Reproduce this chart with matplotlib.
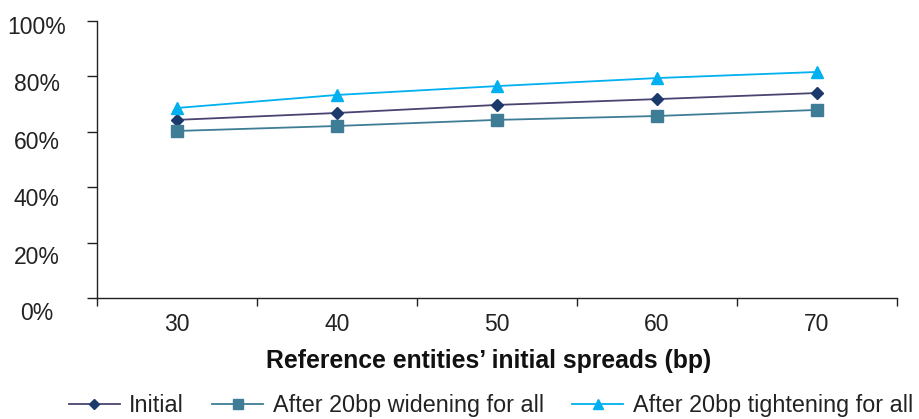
import matplotlib
matplotlib.use("Agg")
import matplotlib.pyplot as plt
import matplotlib.transforms as mtransforms
import numpy as np
from matplotlib.ticker import FixedLocator, NullFormatter

categories = ["30", "40", "50", "60", "70"]
initial = [64.3, 66.8, 69.7, 71.8, 74.0]
widening = [60.3, 62.1, 64.3, 65.7, 67.9]
tightening = [68.6, 73.3, 76.5, 79.4, 81.6]
y_ticks = [0, 20, 40, 60, 80, 100]
y_labels = ["0%", "20%", "40%", "60%", "80%", "100%"]
series_names = ["Initial", "After 20bp widening for all", "After 20bp tightening for all"]

plt.rcParams['font.family'] = ['Liberation Sans', 'DejaVu Sans']

fig = plt.figure(figsize=(9.19, 4.19), dpi=100)
ax = fig.add_axes([97/919, 1-298/419, 800/919, 277/419])

x = np.arange(len(categories))
ax.plot(x, initial, color='#4a4470', lw=1.3, marker='D', ms=6.5,
        mfc='#1b3a6b', mec='#1b3a6b', label=series_names[0])
ax.plot(x, widening, color='#3f7d96', lw=1.3, marker='s', ms=8,
        mfc='#3f7d96', mec='#3f7d96', label=series_names[1])
ax.plot(x, tightening, color='#00b0f0', lw=1.3, marker='^', ms=9,
        mfc='#00b0f0', mec='#00b0f0', label=series_names[2])

ax.set_xlim(-0.5, len(categories) - 0.5)
ax.set_ylim(0, 100)
ax.set_xticks(x)
ax.set_xticklabels(categories, fontsize=16.5, color='#222222')
ax.xaxis.set_minor_locator(FixedLocator(np.arange(-0.5, len(categories), 1.0)))
ax.xaxis.set_minor_formatter(NullFormatter())
ax.tick_params(axis='x', which='major', length=0, pad=11)
ax.tick_params(axis='x', which='minor', length=6, width=1, color='#222222', direction='out')
ax.set_yticks(y_ticks)
ax.set_yticklabels(y_labels, fontsize=16.5, color='#222222')
ax.tick_params(axis='y', length=7, width=1, color='#222222', direction='out', pad=36.5)

# y labels in the reference are centred and drift slightly downward
shifts_px = [13, 12, 10, 8, 6, 4]
for lab, s in zip(ax.get_yticklabels(), shifts_px):
    lab.set_horizontalalignment('center')
    lab.set_transform(lab.get_transform() +
                      mtransforms.ScaledTranslation(0, -s/100, fig.dpi_scale_trans))

for s in ['top', 'right']:
    ax.spines[s].set_visible(False)
for s in ['left', 'bottom']:
    ax.spines[s].set_color('#222222')
    ax.spines[s].set_linewidth(1.0)

ax.set_xlabel("Reference entities\u2019 initial spreads (bp)", fontsize=17.8,
              fontweight='bold', labelpad=9, color='#111111')
ax.xaxis.label.set_x(0.489)

leg = fig.legend(loc='lower center', bbox_to_anchor=(0.534, -0.046), ncol=3, frameon=False,
                 fontsize=16.8, handlelength=2.2, handletextpad=0.4, columnspacing=1.2,
                 markerscale=0.85)
for t in leg.get_texts():
    t.set_color('#222222')

fig.savefig("out.png", dpi=100)
